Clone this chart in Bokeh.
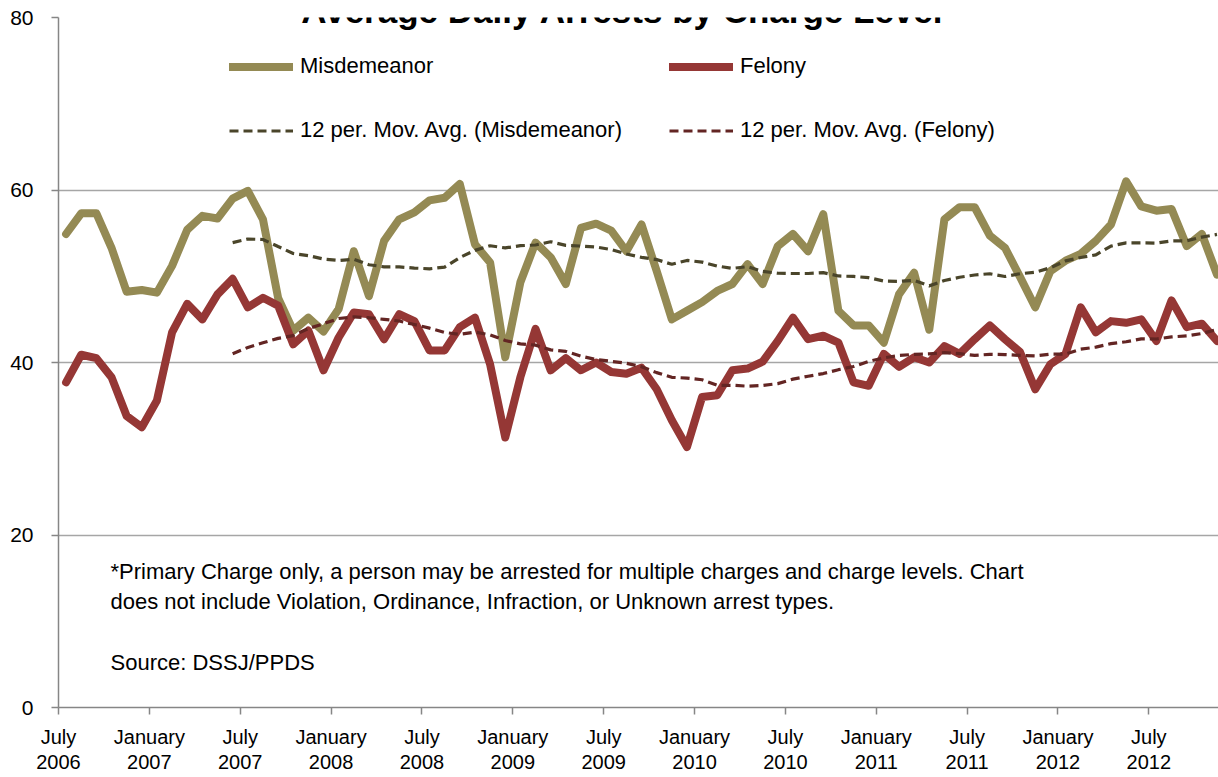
import numpy as np
import pandas as pd
from bokeh.plotting import figure
from bokeh.models import Range1d, FixedTicker, Legend, LegendItem, Label
from bokeh.embed import file_html
from bokeh.resources import INLINE

# Monthly average daily arrests, July 2006 .. November 2012
misdemeanor = [54.9, 57.3, 57.3, 53.3, 48.2, 48.4, 48.1, 51.2, 55.4, 57.0, 56.7, 59.0,
               59.9, 56.6, 47.5, 43.7, 45.2, 43.6, 46.2, 52.9, 47.7, 54.1, 56.6, 57.4,
               58.8, 59.1, 60.7, 53.7, 51.6, 40.6, 49.3, 53.9, 52.2, 49.1, 55.6, 56.1,
               55.3, 52.9, 56.0, 50.6, 45.0, 46.0, 47.0, 48.3, 49.1, 51.4, 49.1, 53.5,
               54.9, 52.9, 57.2, 46.0, 44.3, 44.3, 42.3, 47.9, 50.4, 43.8, 56.6, 58.0,
               58.0, 54.7, 53.3, 49.9, 46.4, 50.6, 51.8, 52.6, 54.1, 56.0, 61.0, 58.1,
               57.6, 57.8, 53.5, 54.9, 50.2]
felony = [37.7, 40.9, 40.5, 38.3, 33.8, 32.5, 35.6, 43.5, 46.8, 45.0, 47.9, 49.7,
          46.4, 47.5, 46.6, 42.1, 43.7, 39.1, 42.9, 45.8, 45.6, 42.7, 45.6, 44.8,
          41.4, 41.4, 44.1, 45.2, 39.8, 31.3, 38.3, 43.9, 39.1, 40.5, 39.1, 40.0,
          38.9, 38.7, 39.4, 36.9, 33.3, 30.2, 36.0, 36.2, 39.1, 39.3, 40.1, 42.5,
          45.2, 42.7, 43.1, 42.3, 37.7, 37.3, 41.0, 39.5, 40.6, 40.0, 41.9, 41.0,
          42.7, 44.3, 42.7, 41.2, 36.9, 39.8, 41.0, 46.4, 43.5, 44.8, 44.6, 45.0,
          42.5, 47.2, 44.1, 44.5, 42.5]
tick_months = [0, 6, 12, 18, 24, 30, 36, 42, 48, 54, 60, 66, 72]
tick_labels = ["July\n2006", "January\n2007", "July\n2007", "January\n2008", "July\n2008",
               "January\n2009", "July\n2009", "January\n2010", "July\n2010", "January\n2011",
               "July\n2011", "January\n2012", "July\n2012"]
y_ticks = [0, 20, 40, 60, 80]
series_names = ["Misdemeanor", "Felony"]
ma_window = 12

FONT = "Liberation Sans"
C_MIS = "#948A54"
C_FEL = "#953735"
C_MA_MIS = "#4A452A"
C_MA_FEL = "#632523"

x = np.arange(len(misdemeanor)) + 0.5
ma_mis = pd.Series(misdemeanor).rolling(ma_window).mean().to_numpy()
ma_fel = pd.Series(felony).rolling(ma_window).mean().to_numpy()
k = ma_window - 1

p = figure(width=1218, height=777, output_backend="svg", toolbar_location=None,
           x_range=Range1d(0, 76.6), y_range=Range1d(0, 80),
           min_border_left=58, min_border_right=0, min_border_top=17, min_border_bottom=70)
p.outline_line_color = None
p.background_fill_color = "white"
p.xgrid.visible = False
p.ygrid.grid_line_color = "#A6A6A6"
p.ygrid.grid_line_width = 1.5

r_mis = p.line(x, misdemeanor, line_color=C_MIS, line_width=8, line_join="round", line_cap="round")
r_fel = p.line(x, felony, line_color=C_FEL, line_width=8, line_join="round", line_cap="round")
r_ma_mis = p.line(x[k:], ma_mis[k:], line_color=C_MA_MIS, line_width=3.2, line_dash="9 5")
r_ma_fel = p.line(x[k:], ma_fel[k:], line_color=C_MA_FEL, line_width=3.2, line_dash="9 5")

yax = p.yaxis[0]
yax.ticker = FixedTicker(ticks=y_ticks)
yax.axis_line_color = "#868686"
yax.axis_line_width = 1.5
yax.major_tick_line_color = "#868686"
yax.major_tick_line_width = 1.5
yax.major_tick_out = 7
yax.major_tick_in = 0
yax.minor_tick_out = 0
yax.minor_tick_in = 0
yax.major_label_standoff = 18
yax.major_label_text_font = FONT
yax.major_label_text_font_size = "21px"
yax.major_label_text_color = "black"

xax = p.xaxis[0]
xax.ticker = FixedTicker(ticks=tick_months)
xax.major_label_overrides = {m: lab for m, lab in zip(tick_months, tick_labels)}
xax.axis_line_color = "#868686"
xax.axis_line_width = 1.5
xax.major_tick_line_color = "#868686"
xax.major_tick_line_width = 1.5
xax.major_tick_out = 7
xax.major_tick_in = 0
xax.minor_tick_out = 0
xax.minor_tick_in = 0
xax.major_label_standoff = 11
xax.major_label_text_font = FONT
xax.major_label_text_font_size = "20px"
xax.major_label_text_line_height = 1.15
xax.major_label_text_color = "black"

legend = Legend(items=[
    LegendItem(label=series_names[0], renderers=[r_mis]),
    LegendItem(label="12 per. Mov. Avg. (%s)" % series_names[0], renderers=[r_ma_mis]),
    LegendItem(label=series_names[1], renderers=[r_fel]),
    LegendItem(label="12 per. Mov. Avg. (%s)" % series_names[1], renderers=[r_ma_fel]),
], location=(171, 564), orientation="vertical", nrows=2)
legend.glyph_width = 64
legend.glyph_height = 25
legend.label_height = 25
legend.label_width = 331
legend.label_standoff = 7
legend.spacing = 38
legend.padding = 0
legend.margin = 0
legend.border_line_color = None
legend.background_fill_alpha = 0
legend.label_text_font = FONT
legend.label_text_font_size = "22px"
legend.label_text_color = "black"
p.add_layout(legend, "center")

note = Label(x=52, y=149, x_units="screen", y_units="screen",
             text="*Primary Charge only, a person may be arrested for multiple charges and charge levels.  Chart\n"
                  "does not include Violation, Ordinance, Infraction, or Unknown arrest types.\n\n"
                  "Source: DSSJ/PPDS",
             text_font=FONT, text_font_size="22px", text_baseline="top",
             text_line_height=1.22, text_color="black")
p.add_layout(note)

title = Label(x=564, y=697, x_units="screen", y_units="screen",
              text="Average Daily Arrests by Charge Level", text_align="center",
              text_baseline="alphabetic", text_font=FONT, text_font_size="35px",
              text_font_style="bold", text_color="black")
p.add_layout(title)

open("out.html", "w").write(file_html(p, INLINE))
